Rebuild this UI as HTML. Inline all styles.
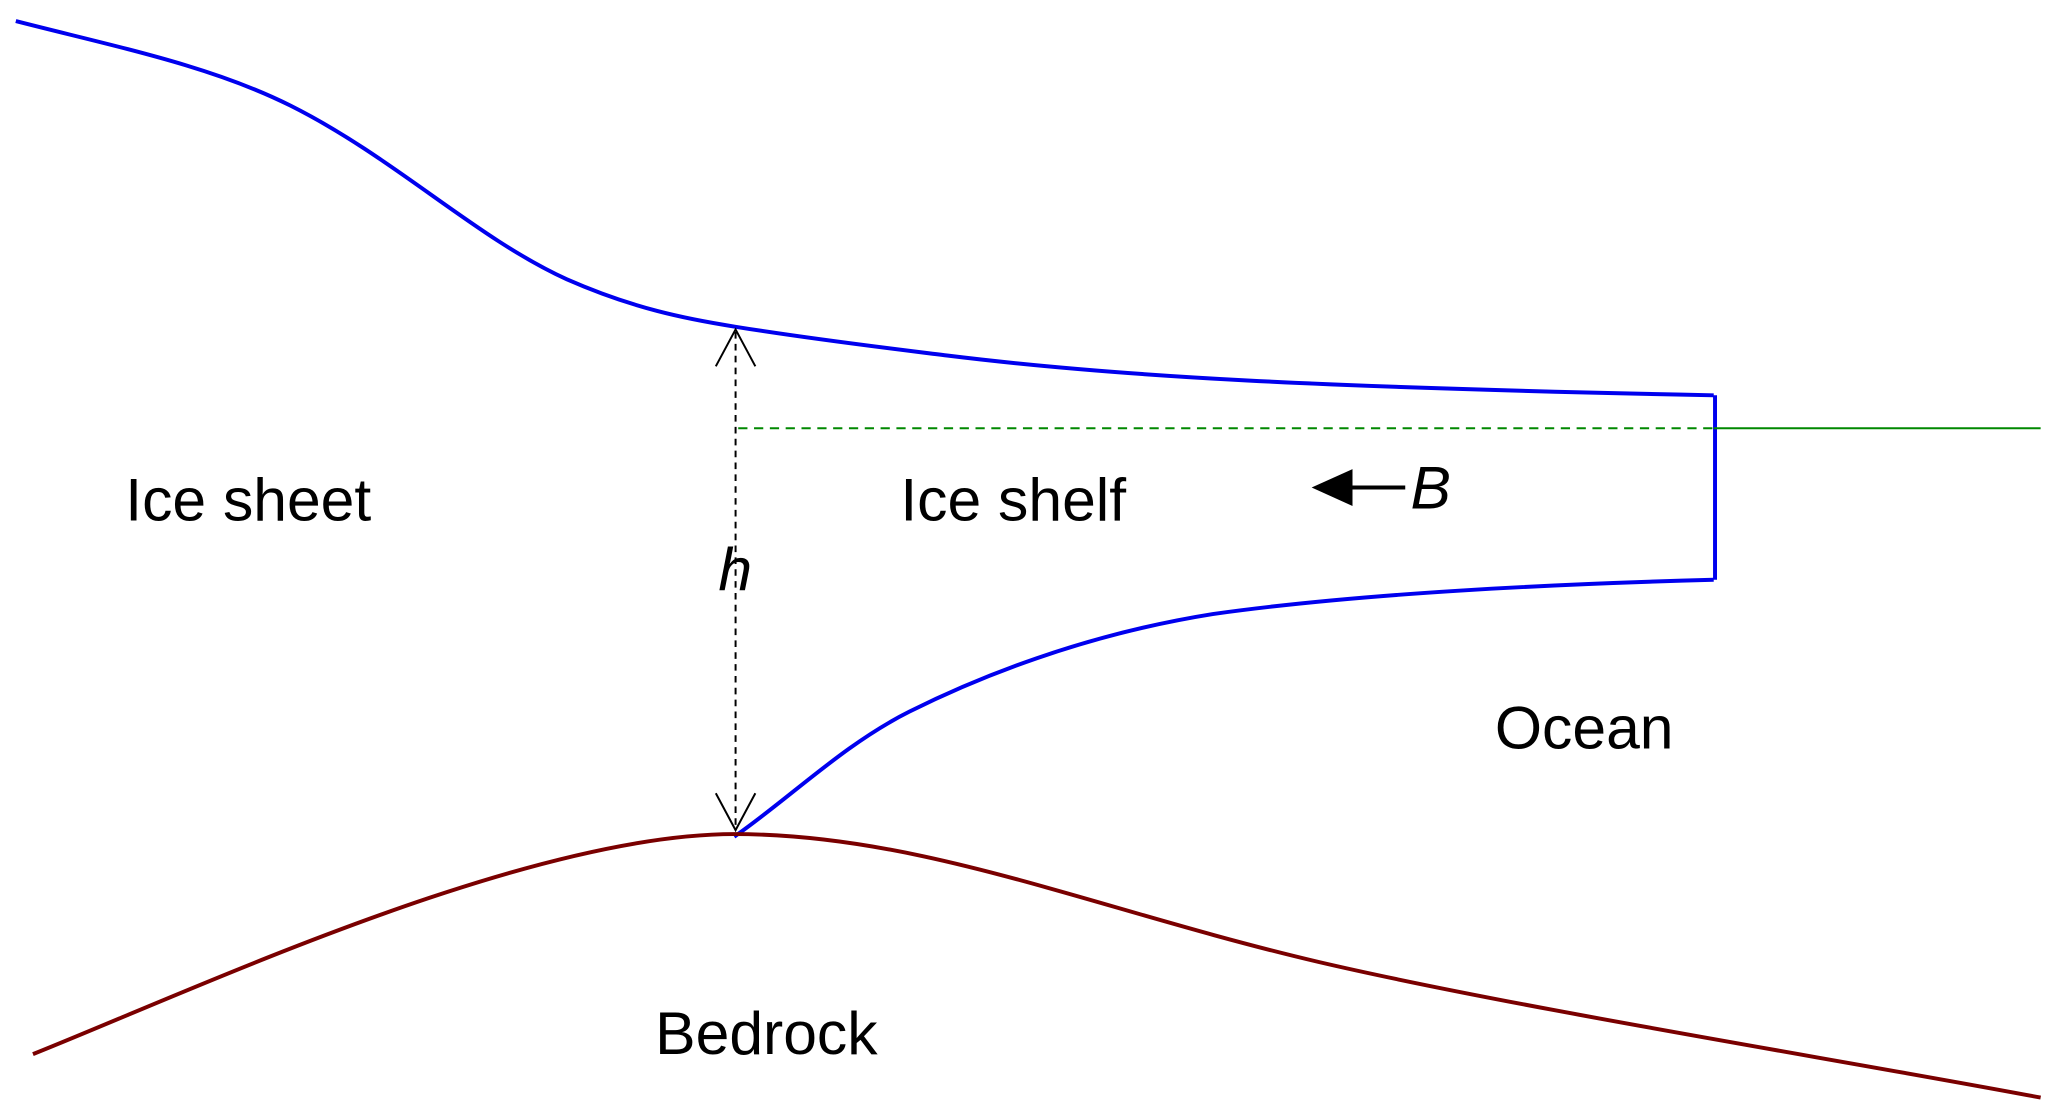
<!DOCTYPE html>
<html><head><meta charset="utf-8"><style>
html,body{margin:0;padding:0;background:#fff;}
svg{display:block;}
text{font-family:"Liberation Sans",Arial,sans-serif;font-size:46px;fill:#000;}
</style></head><body>
<svg width="2067" height="1120" viewBox="0 0 1568 850" preserveAspectRatio="none" xmlns="http://www.w3.org/2000/svg">
<path d="M12,16 C90,36 160,50 220,80 C300,120 360,180 430,212 C480,234 520,242 558,248 C620,258 680,265 720,270 C850,286 1000,294 1300,300" fill="none" stroke="#0000ee" stroke-width="3"/>
<path d="M1301,300 L1301,440" fill="none" stroke="#0000ee" stroke-width="3"/>
<path d="M1300,440 C1150,444 1020,452 920,466 C820,482 740,515 690,540 C640,565 600,605 557,635" fill="none" stroke="#0000ee" stroke-width="3"/>
<line x1="560" y1="325" x2="1300" y2="325" stroke="#008800" stroke-width="1.5" stroke-dasharray="7,5"/>
<line x1="1300" y1="325" x2="1548" y2="325" stroke="#008800" stroke-width="1.5"/>
<path d="M25,800 C150,750 400,633 557,633 C700,633 830,690 1000,730 C1150,765 1400,805 1548,833" fill="none" stroke="#7a0000" stroke-width="3"/>
<line x1="558" y1="252" x2="558" y2="628" stroke="#000" stroke-width="1.5" stroke-dasharray="5,4"/>
<path d="M543,278 L558,250 L573,278" fill="none" stroke="#000" stroke-width="1.5"/>
<path d="M543,602 L558,630 L573,602" fill="none" stroke="#000" stroke-width="1.5"/>
<line x1="1020" y1="370" x2="1066" y2="370" stroke="#000" stroke-width="3"/>
<polygon points="995,370 1026,356 1026,384" fill="#000"/>
<text x="95" y="395">Ice sheet</text>
<text x="683" y="395">Ice shelf</text>
<text x="545" y="448" font-style="italic">h</text>
<text x="1070" y="386" font-style="italic">B</text>
<text x="1134" y="568">Ocean</text>
<text x="497" y="800">Bedrock</text>
</svg>
</body></html>
